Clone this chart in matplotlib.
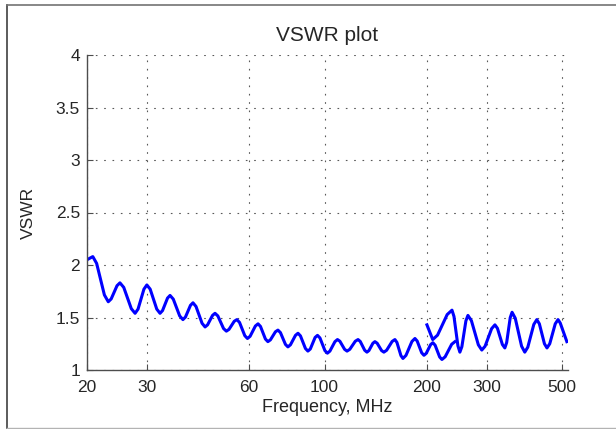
import matplotlib.pyplot as plt
from matplotlib.lines import Line2D

# lower band sweep (MHz, VSWR)
f_low = [20.0, 20.8, 21.35, 22.5, 23.1, 23.56, 24.51, 25.0, 25.65, 27.0, 27.7,
         28.26, 29.41, 30.0, 30.68, 32.08, 32.8, 33.36, 34.51, 35.1, 35.88, 37.47,
         38.3, 38.96, 40.31, 41.0, 41.85, 43.6, 44.5, 45.26, 46.81, 47.6, 48.52,
         50.43, 51.4, 52.33, 54.22, 55.2, 56.2, 58.24, 59.3, 60.37, 62.57, 63.7,
         64.77, 66.97, 68.1, 69.27, 71.67, 72.9, 74.15, 76.7, 78.0, 79.34, 82.09,
         83.5, 84.91, 87.82, 89.3, 90.76, 93.77, 95.3, 96.91, 100.2, 101.9, 103.65,
         107.25, 109.1, 110.9, 114.5, 116.4, 118.6, 123.1, 125.4, 127.3, 131.2,
         133.2, 135.0, 138.7, 140.6, 142.75, 147.1, 149.4, 152.2, 158.0, 161.0,
         163.2, 167.7, 170.0, 173.5, 180.7, 184.4, 187.2, 193.0, 196.0, 199.0,
         205.1, 208.2, 211.4, 218.0, 221.4, 226.3, 236.5, 241.8]
vswr_low = [2.05, 2.08, 2.015, 1.715, 1.65, 1.677, 1.803, 1.83, 1.787, 1.584, 1.54,
            1.58, 1.77, 1.81, 1.77, 1.58, 1.54, 1.566, 1.685, 1.71, 1.675, 1.515,
            1.48, 1.504, 1.616, 1.64, 1.605, 1.445, 1.41, 1.43, 1.52, 1.54, 1.515,
            1.395, 1.37, 1.387, 1.464, 1.48, 1.453, 1.327, 1.30, 1.321, 1.419, 1.44,
            1.415, 1.295, 1.27, 1.287, 1.364, 1.38, 1.356, 1.244, 1.22, 1.24, 1.33,
            1.35, 1.325, 1.205, 1.18, 1.20, 1.31, 1.33, 1.305, 1.185, 1.16, 1.18,
            1.27, 1.29, 1.274, 1.197, 1.18, 1.197, 1.274, 1.29, 1.272, 1.188,
            1.17, 1.185, 1.255, 1.27, 1.255, 1.185, 1.17, 1.188, 1.272, 1.29,
            1.263, 1.137, 1.11, 1.139, 1.272, 1.30, 1.276, 1.164, 1.14, 1.158,
            1.242, 1.26, 1.236, 1.124, 1.10, 1.126, 1.245, 1.27]

# upper band sweep
f_high = [200, 208, 214.9, 229.4, 237, 240.2, 246.7, 250, 253.4, 260.4, 264,
          270.3, 283.3, 290, 296.5, 310.0, 317, 322.4, 333.4, 339, 343.2, 351.6,
          356, 363.8, 379.7, 388, 396.0, 412.5, 421, 428.3, 443.3, 451, 459.5,
          477.0, 486, 493.3, 516]
vswr_high = [1.43, 1.29, 1.332, 1.528, 1.57, 1.51, 1.23, 1.17, 1.222, 1.468, 1.52,
             1.47, 1.24, 1.19, 1.226, 1.394, 1.43, 1.397, 1.243, 1.21, 1.261, 1.499,
             1.55, 1.493, 1.227, 1.17, 1.217, 1.434, 1.48, 1.44, 1.25, 1.21, 1.25,
             1.44, 1.48, 1.448, 1.27]

xticks = [20, 30, 60, 100, 200, 300, 500]
yticks = [1, 1.5, 2, 2.5, 3, 3.5, 4]

plt.rcParams['font.family'] = ['Liberation Sans', 'DejaVu Sans']
plt.rcParams['font.size'] = 12.5

fig = plt.figure(figsize=(6.16, 4.29), dpi=100)
ax = fig.add_axes([87/616, 59/429, 481/616, 315/429])

ax.plot(f_low, vswr_low, color='#0000ff', lw=2.2, solid_joinstyle='round')
ax.plot(f_high, vswr_high, color='#0000ff', lw=2.2, solid_joinstyle='round')

ax.set_xscale('log')
ax.set_xlim(20, 520)
ax.set_ylim(1, 4)
ax.set_xticks(xticks)
ax.set_xticklabels([str(t) for t in xticks])
ax.minorticks_off()
ax.set_yticks(yticks)
ax.set_yticklabels(['1', '1.5', '2', '2.5', '3', '3.5', '4'])
ax.tick_params(direction='in', length=4, width=0.8, color='0.3', labelcolor='0.15')
ax.tick_params(axis='x', pad=7)
ax.tick_params(axis='y', pad=5)

ax.grid(True, color='0.35', linestyle=(0, (1.5, 6)), linewidth=0.8)
ax.spines['top'].set_visible(False)
ax.spines['right'].set_visible(False)
for s in ['left', 'bottom']:
    ax.spines[s].set_color('0.3')
    ax.spines[s].set_linewidth(1.0)

ax.set_title('VSWR plot', color='0.15', pad=10)
ax.set_xlabel('Frequency, MHz', color='0.15', fontsize=13, labelpad=3)
ax.set_ylabel('VSWR', color='0.15', labelpad=14)

# window frame around the figure
fig.add_artist(Line2D([7/616, 7/616], [1/429, 424/429], color='0.25', lw=1.2))
fig.add_artist(Line2D([7/616, 1], [424/429, 424/429], color='0.45', lw=1.2))
fig.add_artist(Line2D([7/616, 1], [1/429, 1/429], color='0.7', lw=1.0))

fig.savefig('out.png', dpi=100)
